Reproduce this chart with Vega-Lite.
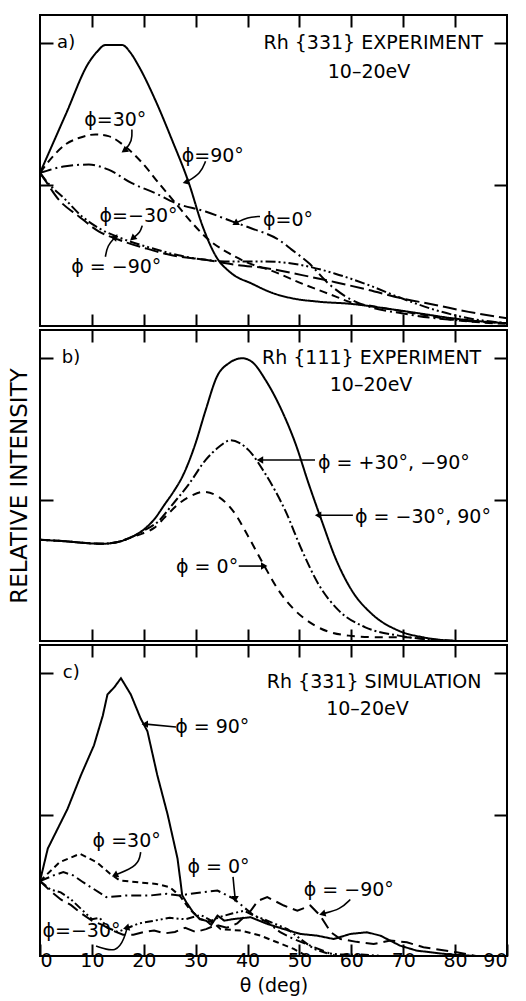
{
  "$schema": "https://vega.github.io/schema/vega-lite/v6.json",
  "background": "white",
  "padding": {"left": 7, "top": 13, "right": 0, "bottom": 0},
  "spacing": 0,
  "resolve": {"scale": {"strokeDash": "independent"}},
  "config": {
    "view": {"stroke": "black", "strokeWidth": 2},
    "font": "DejaVu Sans",
    "axis": {"domain": false, "grid": false, "tickColor": "black", "tickWidth": 2, "minExtent": 0, "labelFont": "DejaVu Sans", "labelFontSize": 19, "labelColor": "black", "titleFont": "DejaVu Sans", "titleFontSize": 23, "titleFontWeight": "normal", "titleColor": "black"},
    "text": {"font": "DejaVu Sans", "color": "black"}
  },
  "datasets": {
    "curves": [
      {"panel":"a","phi":"90","theta":0,"intensity":1.083},{"panel":"a","phi":"90","theta":5,"intensity":1.5},{"panel":"a","phi":"90","theta":9.4,"intensity":1.863},{"panel":"a","phi":"90","theta":11,"intensity":1.94},{"panel":"a","phi":"90","theta":12.6,"intensity":1.988},{"panel":"a","phi":"90","theta":15.8,"intensity":1.988},{"panel":"a","phi":"90","theta":17.5,"intensity":1.93},{"panel":"a","phi":"90","theta":19,"intensity":1.84},{"panel":"a","phi":"90","theta":22.2,"intensity":1.6},{"panel":"a","phi":"90","theta":25.4,"intensity":1.32},{"panel":"a","phi":"90","theta":28.7,"intensity":1.01},{"panel":"a","phi":"90","theta":31.2,"intensity":0.72},{"panel":"a","phi":"90","theta":33.8,"intensity":0.5},{"panel":"a","phi":"90","theta":37,"intensity":0.37},{"panel":"a","phi":"90","theta":40.8,"intensity":0.3},{"panel":"a","phi":"90","theta":44.7,"intensity":0.235},{"panel":"a","phi":"90","theta":48.6,"intensity":0.196},{"panel":"a","phi":"90","theta":53.7,"intensity":0.172},{"panel":"a","phi":"90","theta":60.1,"intensity":0.156},{"panel":"a","phi":"90","theta":66.5,"intensity":0.125},{"panel":"a","phi":"90","theta":73,"intensity":0.09},{"panel":"a","phi":"90","theta":79.4,"intensity":0.055},{"panel":"a","phi":"90","theta":85.8,"intensity":0.03},{"panel":"a","phi":"90","theta":90,"intensity":0.02},
      {"panel":"a","phi":"30","theta":0,"intensity":1.083},{"panel":"a","phi":"30","theta":2.5,"intensity":1.2},{"panel":"a","phi":"30","theta":4.9,"intensity":1.284},{"panel":"a","phi":"30","theta":7.5,"intensity":1.33},{"panel":"a","phi":"30","theta":10.7,"intensity":1.355},{"panel":"a","phi":"30","theta":13.2,"intensity":1.343},{"panel":"a","phi":"30","theta":16.4,"intensity":1.27},{"panel":"a","phi":"30","theta":19.7,"intensity":1.154},{"panel":"a","phi":"30","theta":22.9,"intensity":1.01},{"panel":"a","phi":"30","theta":26.1,"intensity":0.87},{"panel":"a","phi":"30","theta":29.3,"intensity":0.73},{"panel":"a","phi":"30","theta":32.5,"intensity":0.61},{"panel":"a","phi":"30","theta":36.4,"intensity":0.515},{"panel":"a","phi":"30","theta":40.2,"intensity":0.445},{"panel":"a","phi":"30","theta":44.7,"intensity":0.39},{"panel":"a","phi":"30","theta":50.5,"intensity":0.3},{"panel":"a","phi":"30","theta":56.9,"intensity":0.21},{"panel":"a","phi":"30","theta":60.1,"intensity":0.165},{"panel":"a","phi":"30","theta":63.3,"intensity":0.145},{"panel":"a","phi":"30","theta":68,"intensity":0.115},{"panel":"a","phi":"30","theta":73,"intensity":0.085},{"panel":"a","phi":"30","theta":79.4,"intensity":0.045},{"panel":"a","phi":"30","theta":85,"intensity":0.025},{"panel":"a","phi":"30","theta":90,"intensity":0.015},
      {"panel":"a","phi":"0","theta":0,"intensity":1.083},{"panel":"a","phi":"0","theta":4.9,"intensity":1.13},{"panel":"a","phi":"0","theta":9.4,"intensity":1.142},{"panel":"a","phi":"0","theta":13.2,"intensity":1.106},{"panel":"a","phi":"0","theta":17.7,"intensity":1.01},{"panel":"a","phi":"0","theta":22.2,"intensity":0.94},{"panel":"a","phi":"0","theta":26.1,"intensity":0.87},{"panel":"a","phi":"0","theta":31.9,"intensity":0.81},{"panel":"a","phi":"0","theta":37,"intensity":0.74},{"panel":"a","phi":"0","theta":40.8,"intensity":0.69},{"panel":"a","phi":"0","theta":46,"intensity":0.61},{"panel":"a","phi":"0","theta":48.5,"intensity":0.54},{"panel":"a","phi":"0","theta":51.8,"intensity":0.445},{"panel":"a","phi":"0","theta":55.6,"intensity":0.3},{"panel":"a","phi":"0","theta":60.1,"intensity":0.184},{"panel":"a","phi":"0","theta":64,"intensity":0.13},{"panel":"a","phi":"0","theta":69.7,"intensity":0.09},{"panel":"a","phi":"0","theta":75,"intensity":0.06},{"panel":"a","phi":"0","theta":80.7,"intensity":0.04},{"panel":"a","phi":"0","theta":90,"intensity":0.02},
      {"panel":"a","phi":"-30","theta":0,"intensity":1.083},{"panel":"a","phi":"-30","theta":1,"intensity":1.035},{"panel":"a","phi":"-30","theta":4.9,"intensity":0.894},{"panel":"a","phi":"-30","theta":8.1,"intensity":0.775},{"panel":"a","phi":"-30","theta":11.3,"intensity":0.693},{"panel":"a","phi":"-30","theta":16.4,"intensity":0.61},{"panel":"a","phi":"-30","theta":21.6,"intensity":0.55},{"panel":"a","phi":"-30","theta":26.7,"intensity":0.5},{"panel":"a","phi":"-30","theta":31.9,"intensity":0.468},{"panel":"a","phi":"-30","theta":37,"intensity":0.456},{"panel":"a","phi":"-30","theta":43.4,"intensity":0.456},{"panel":"a","phi":"-30","theta":50.5,"intensity":0.43},{"panel":"a","phi":"-30","theta":56.9,"intensity":0.37},{"panel":"a","phi":"-30","theta":63.3,"intensity":0.29},{"panel":"a","phi":"-30","theta":69.7,"intensity":0.196},{"panel":"a","phi":"-30","theta":76.2,"intensity":0.113},{"panel":"a","phi":"-30","theta":82.6,"intensity":0.055},{"panel":"a","phi":"-30","theta":90,"intensity":0.02},
      {"panel":"a","phi":"-90","theta":0,"intensity":1.083},{"panel":"a","phi":"-90","theta":1,"intensity":1.03},{"panel":"a","phi":"-90","theta":3.6,"intensity":0.894},{"panel":"a","phi":"-90","theta":7.5,"intensity":0.775},{"panel":"a","phi":"-90","theta":11.3,"intensity":0.67},{"panel":"a","phi":"-90","theta":15.2,"intensity":0.61},{"panel":"a","phi":"-90","theta":20.3,"intensity":0.55},{"panel":"a","phi":"-90","theta":25.4,"intensity":0.5},{"panel":"a","phi":"-90","theta":31.9,"intensity":0.468},{"panel":"a","phi":"-90","theta":38.3,"intensity":0.43},{"panel":"a","phi":"-90","theta":43.4,"intensity":0.41},{"panel":"a","phi":"-90","theta":50.5,"intensity":0.36},{"panel":"a","phi":"-90","theta":56.9,"intensity":0.31},{"panel":"a","phi":"-90","theta":63.3,"intensity":0.255},{"panel":"a","phi":"-90","theta":69.7,"intensity":0.196},{"panel":"a","phi":"-90","theta":76.2,"intensity":0.149},{"panel":"a","phi":"-90","theta":82.6,"intensity":0.1},{"panel":"a","phi":"-90","theta":90,"intensity":0.055},
      {"panel":"b","phi":"-30,90","theta":0,"intensity":0.716},{"panel":"b","phi":"-30,90","theta":5,"intensity":0.705},{"panel":"b","phi":"-30,90","theta":10,"intensity":0.69},{"panel":"b","phi":"-30,90","theta":12,"intensity":0.688},{"panel":"b","phi":"-30,90","theta":15,"intensity":0.7},{"panel":"b","phi":"-30,90","theta":17,"intensity":0.725},{"panel":"b","phi":"-30,90","theta":19.7,"intensity":0.78},{"panel":"b","phi":"-30,90","theta":22,"intensity":0.86},{"panel":"b","phi":"-30,90","theta":24.1,"intensity":0.97},{"panel":"b","phi":"-30,90","theta":25.8,"intensity":1.06},{"panel":"b","phi":"-30,90","theta":27.4,"intensity":1.16},{"panel":"b","phi":"-30,90","theta":29.9,"intensity":1.39},{"panel":"b","phi":"-30,90","theta":31.9,"intensity":1.63},{"panel":"b","phi":"-30,90","theta":34.1,"intensity":1.87},{"panel":"b","phi":"-30,90","theta":36.4,"intensity":1.965},{"panel":"b","phi":"-30,90","theta":39,"intensity":2.0},{"panel":"b","phi":"-30,90","theta":41,"intensity":1.97},{"panel":"b","phi":"-30,90","theta":43.4,"intensity":1.85},{"panel":"b","phi":"-30,90","theta":46.6,"intensity":1.63},{"panel":"b","phi":"-30,90","theta":49.2,"intensity":1.4},{"panel":"b","phi":"-30,90","theta":51.8,"intensity":1.11},{"panel":"b","phi":"-30,90","theta":54.3,"intensity":0.85},{"panel":"b","phi":"-30,90","theta":56.9,"intensity":0.59},{"panel":"b","phi":"-30,90","theta":60.1,"intensity":0.357},{"panel":"b","phi":"-30,90","theta":64,"intensity":0.19},{"panel":"b","phi":"-30,90","theta":69.1,"intensity":0.073},{"panel":"b","phi":"-30,90","theta":74,"intensity":0.025},{"panel":"b","phi":"-30,90","theta":80,"intensity":0.0},
      {"panel":"b","phi":"+30,-90","theta":0,"intensity":0.716},{"panel":"b","phi":"+30,-90","theta":5,"intensity":0.705},{"panel":"b","phi":"+30,-90","theta":10,"intensity":0.69},{"panel":"b","phi":"+30,-90","theta":12,"intensity":0.688},{"panel":"b","phi":"+30,-90","theta":15,"intensity":0.7},{"panel":"b","phi":"+30,-90","theta":17,"intensity":0.725},{"panel":"b","phi":"+30,-90","theta":19.7,"intensity":0.775},{"panel":"b","phi":"+30,-90","theta":22.9,"intensity":0.85},{"panel":"b","phi":"+30,-90","theta":25.4,"intensity":0.96},{"panel":"b","phi":"+30,-90","theta":28.7,"intensity":1.11},{"panel":"b","phi":"+30,-90","theta":31.9,"intensity":1.28},{"panel":"b","phi":"+30,-90","theta":34.4,"intensity":1.37},{"panel":"b","phi":"+30,-90","theta":36.7,"intensity":1.42},{"panel":"b","phi":"+30,-90","theta":38.5,"intensity":1.4},{"panel":"b","phi":"+30,-90","theta":40.2,"intensity":1.35},{"panel":"b","phi":"+30,-90","theta":43.4,"intensity":1.184},{"panel":"b","phi":"+30,-90","theta":47.3,"intensity":0.92},{"panel":"b","phi":"+30,-90","theta":50.5,"intensity":0.64},{"panel":"b","phi":"+30,-90","theta":53.7,"intensity":0.4},{"panel":"b","phi":"+30,-90","theta":57.6,"intensity":0.215},{"panel":"b","phi":"+30,-90","theta":62.7,"intensity":0.097},{"panel":"b","phi":"+30,-90","theta":69.1,"intensity":0.038},{"panel":"b","phi":"+30,-90","theta":75,"intensity":0.01},{"panel":"b","phi":"+30,-90","theta":80,"intensity":0.0},
      {"panel":"b","phi":"0","theta":0,"intensity":0.716},{"panel":"b","phi":"0","theta":5,"intensity":0.705},{"panel":"b","phi":"0","theta":10,"intensity":0.69},{"panel":"b","phi":"0","theta":12,"intensity":0.688},{"panel":"b","phi":"0","theta":15,"intensity":0.7},{"panel":"b","phi":"0","theta":17,"intensity":0.725},{"panel":"b","phi":"0","theta":19.7,"intensity":0.76},{"panel":"b","phi":"0","theta":22,"intensity":0.8},{"panel":"b","phi":"0","theta":24.1,"intensity":0.877},{"panel":"b","phi":"0","theta":26.7,"intensity":0.97},{"panel":"b","phi":"0","theta":29.3,"intensity":1.03},{"panel":"b","phi":"0","theta":31.5,"intensity":1.055},{"panel":"b","phi":"0","theta":34.4,"intensity":1.02},{"panel":"b","phi":"0","theta":37.6,"intensity":0.9},{"panel":"b","phi":"0","theta":40.2,"intensity":0.735},{"panel":"b","phi":"0","theta":43.4,"intensity":0.52},{"panel":"b","phi":"0","theta":46,"intensity":0.357},{"panel":"b","phi":"0","theta":49.2,"intensity":0.215},{"panel":"b","phi":"0","theta":53,"intensity":0.109},{"panel":"b","phi":"0","theta":59.5,"intensity":0.038},{"panel":"b","phi":"0","theta":65.9,"intensity":0.026},{"panel":"b","phi":"0","theta":70.4,"intensity":0.026},{"panel":"b","phi":"0","theta":75,"intensity":0.012},{"panel":"b","phi":"0","theta":80,"intensity":0.0},
      {"panel":"c","phi":"90","theta":0,"intensity":0.53},{"panel":"c","phi":"90","theta":1.5,"intensity":0.76},{"panel":"c","phi":"90","theta":3.4,"intensity":0.9},{"panel":"c","phi":"90","theta":5.3,"intensity":1.04},{"panel":"c","phi":"90","theta":7.9,"intensity":1.28},{"panel":"c","phi":"90","theta":10.4,"intensity":1.49},{"panel":"c","phi":"90","theta":12.1,"intensity":1.7},{"panel":"c","phi":"90","theta":13,"intensity":1.85},{"panel":"c","phi":"90","theta":14.3,"intensity":1.9},{"panel":"c","phi":"90","theta":15.6,"intensity":1.965},{"panel":"c","phi":"90","theta":17.5,"intensity":1.85},{"panel":"c","phi":"90","theta":19.4,"intensity":1.68},{"panel":"c","phi":"90","theta":20.7,"intensity":1.59},{"panel":"c","phi":"90","theta":22.6,"intensity":1.28},{"panel":"c","phi":"90","theta":24.6,"intensity":1.0},{"panel":"c","phi":"90","theta":26.5,"intensity":0.69},{"panel":"c","phi":"90","theta":27.1,"intensity":0.52},{"panel":"c","phi":"90","theta":27.4,"intensity":0.43},{"panel":"c","phi":"90","theta":28.2,"intensity":0.38},{"panel":"c","phi":"90","theta":29.5,"intensity":0.31},{"panel":"c","phi":"90","theta":30.8,"intensity":0.26},{"panel":"c","phi":"90","theta":32,"intensity":0.25},{"panel":"c","phi":"90","theta":33,"intensity":0.22},{"panel":"c","phi":"90","theta":34.2,"intensity":0.286},{"panel":"c","phi":"90","theta":35.5,"intensity":0.25},{"panel":"c","phi":"90","theta":37.4,"intensity":0.262},{"panel":"c","phi":"90","theta":40.6,"intensity":0.274},{"panel":"c","phi":"90","theta":43.8,"intensity":0.227},{"panel":"c","phi":"90","theta":47,"intensity":0.19},{"panel":"c","phi":"90","theta":50.2,"intensity":0.156},{"panel":"c","phi":"90","theta":53.4,"intensity":0.144},{"panel":"c","phi":"90","theta":56.6,"intensity":0.12},{"panel":"c","phi":"90","theta":59.8,"intensity":0.156},{"panel":"c","phi":"90","theta":63,"intensity":0.168},{"panel":"c","phi":"90","theta":65.6,"intensity":0.144},{"panel":"c","phi":"90","theta":69.4,"intensity":0.073},{"panel":"c","phi":"90","theta":72.6,"intensity":0.038},{"panel":"c","phi":"90","theta":79,"intensity":0.01},{"panel":"c","phi":"90","theta":84,"intensity":0.0},
      {"panel":"c","phi":"30","theta":0,"intensity":0.53},{"panel":"c","phi":"30","theta":3.8,"intensity":0.664},{"panel":"c","phi":"30","theta":7.7,"intensity":0.723},{"panel":"c","phi":"30","theta":10.9,"intensity":0.664},{"panel":"c","phi":"30","theta":13.5,"intensity":0.582},{"panel":"c","phi":"30","theta":15.4,"intensity":0.534},{"panel":"c","phi":"30","theta":19.2,"intensity":0.52},{"panel":"c","phi":"30","theta":22.4,"intensity":0.51},{"panel":"c","phi":"30","theta":25,"intensity":0.487},{"panel":"c","phi":"30","theta":26.9,"intensity":0.428},{"panel":"c","phi":"30","theta":28.8,"intensity":0.333},{"panel":"c","phi":"30","theta":30.8,"intensity":0.262},{"panel":"c","phi":"30","theta":33.3,"intensity":0.239},{"panel":"c","phi":"30","theta":34.8,"intensity":0.19},{"panel":"c","phi":"30","theta":38.7,"intensity":0.18},{"panel":"c","phi":"30","theta":42.5,"intensity":0.144},{"panel":"c","phi":"30","theta":45.7,"intensity":0.097},{"panel":"c","phi":"30","theta":48.9,"intensity":0.05},{"panel":"c","phi":"30","theta":51.4,"intensity":0.0},
      {"panel":"c","phi":"0","theta":0,"intensity":0.53},{"panel":"c","phi":"0","theta":2.6,"intensity":0.57},{"panel":"c","phi":"0","theta":4.5,"intensity":0.593},{"panel":"c","phi":"0","theta":6.4,"intensity":0.57},{"panel":"c","phi":"0","theta":8.3,"intensity":0.522},{"panel":"c","phi":"0","theta":10.3,"intensity":0.475},{"panel":"c","phi":"0","theta":12.8,"intensity":0.416},{"panel":"c","phi":"0","theta":16.7,"intensity":0.428},{"panel":"c","phi":"0","theta":21.2,"intensity":0.428},{"panel":"c","phi":"0","theta":24.4,"intensity":0.44},{"panel":"c","phi":"0","theta":26.9,"intensity":0.428},{"panel":"c","phi":"0","theta":29,"intensity":0.44},{"panel":"c","phi":"0","theta":31,"intensity":0.45},{"panel":"c","phi":"0","theta":34.2,"intensity":0.463},{"panel":"c","phi":"0","theta":37.4,"intensity":0.404},{"panel":"c","phi":"0","theta":39.3,"intensity":0.345},{"panel":"c","phi":"0","theta":41.2,"intensity":0.286},{"panel":"c","phi":"0","theta":43.8,"intensity":0.239},{"panel":"c","phi":"0","theta":46.3,"intensity":0.168},{"panel":"c","phi":"0","theta":48.9,"intensity":0.12},{"panel":"c","phi":"0","theta":52.1,"intensity":0.073},{"panel":"c","phi":"0","theta":55.3,"intensity":0.026},{"panel":"c","phi":"0","theta":57,"intensity":0.0},
      {"panel":"c","phi":"-30","theta":0,"intensity":0.53},{"panel":"c","phi":"-30","theta":2,"intensity":0.47},{"panel":"c","phi":"-30","theta":4,"intensity":0.45},{"panel":"c","phi":"-30","theta":6,"intensity":0.4},{"panel":"c","phi":"-30","theta":8,"intensity":0.33},{"panel":"c","phi":"-30","theta":10,"intensity":0.26},{"panel":"c","phi":"-30","theta":11.5,"intensity":0.27},{"panel":"c","phi":"-30","theta":13,"intensity":0.2},{"panel":"c","phi":"-30","theta":15,"intensity":0.17},{"panel":"c","phi":"-30","theta":17,"intensity":0.2},{"panel":"c","phi":"-30","theta":19,"intensity":0.23},{"panel":"c","phi":"-30","theta":22,"intensity":0.25},{"panel":"c","phi":"-30","theta":25,"intensity":0.27},{"panel":"c","phi":"-30","theta":28,"intensity":0.26},{"panel":"c","phi":"-30","theta":31,"intensity":0.29},{"panel":"c","phi":"-30","theta":33,"intensity":0.25},{"panel":"c","phi":"-30","theta":35,"intensity":0.28},{"panel":"c","phi":"-30","theta":37,"intensity":0.3},{"panel":"c","phi":"-30","theta":39.3,"intensity":0.32},{"panel":"c","phi":"-30","theta":41,"intensity":0.29},{"panel":"c","phi":"-30","theta":43.8,"intensity":0.25},{"panel":"c","phi":"-30","theta":47.7,"intensity":0.19},{"panel":"c","phi":"-30","theta":50.2,"intensity":0.12},{"panel":"c","phi":"-30","theta":52.8,"intensity":0.05},{"panel":"c","phi":"-30","theta":55.3,"intensity":0.02},{"panel":"c","phi":"-30","theta":58,"intensity":0.01},{"panel":"c","phi":"-30","theta":62,"intensity":0.01},{"panel":"c","phi":"-30","theta":66,"intensity":0.0},
      {"panel":"c","phi":"-90","theta":0,"intensity":0.53},{"panel":"c","phi":"-90","theta":2,"intensity":0.46},{"panel":"c","phi":"-90","theta":4,"intensity":0.4},{"panel":"c","phi":"-90","theta":6,"intensity":0.36},{"panel":"c","phi":"-90","theta":8,"intensity":0.3},{"panel":"c","phi":"-90","theta":10,"intensity":0.25},{"panel":"c","phi":"-90","theta":12,"intensity":0.22},{"panel":"c","phi":"-90","theta":14,"intensity":0.18},{"panel":"c","phi":"-90","theta":16,"intensity":0.15},{"panel":"c","phi":"-90","theta":18,"intensity":0.15},{"panel":"c","phi":"-90","theta":20,"intensity":0.17},{"panel":"c","phi":"-90","theta":22,"intensity":0.18},{"panel":"c","phi":"-90","theta":24,"intensity":0.16},{"panel":"c","phi":"-90","theta":26,"intensity":0.17},{"panel":"c","phi":"-90","theta":28,"intensity":0.2},{"panel":"c","phi":"-90","theta":30,"intensity":0.17},{"panel":"c","phi":"-90","theta":32,"intensity":0.19},{"panel":"c","phi":"-90","theta":34,"intensity":0.22},{"panel":"c","phi":"-90","theta":36,"intensity":0.2},{"panel":"c","phi":"-90","theta":38,"intensity":0.23},{"panel":"c","phi":"-90","theta":40.6,"intensity":0.32},{"panel":"c","phi":"-90","theta":42,"intensity":0.39},{"panel":"c","phi":"-90","theta":43.8,"intensity":0.416},{"panel":"c","phi":"-90","theta":47,"intensity":0.357},{"panel":"c","phi":"-90","theta":49.6,"intensity":0.32},{"panel":"c","phi":"-90","theta":52.1,"intensity":0.357},{"panel":"c","phi":"-90","theta":54,"intensity":0.286},{"panel":"c","phi":"-90","theta":56,"intensity":0.17},{"panel":"c","phi":"-90","theta":57.9,"intensity":0.12},{"panel":"c","phi":"-90","theta":61,"intensity":0.1},{"panel":"c","phi":"-90","theta":64.3,"intensity":0.085},{"panel":"c","phi":"-90","theta":67.5,"intensity":0.109},{"panel":"c","phi":"-90","theta":70.7,"intensity":0.097},{"panel":"c","phi":"-90","theta":73.9,"intensity":0.062},{"panel":"c","phi":"-90","theta":80.3,"intensity":0.026},{"panel":"c","phi":"-90","theta":84,"intensity":0.0}
    ],
    "labels": [
      {"panel":"a","kind":"text","theta":64.2,"intensity":2.0,"text":"Rh {331} EXPERIMENT"},
      {"panel":"a","kind":"text","theta":63.4,"intensity":1.8,"text":"10–20eV"},
      {"panel":"a","kind":"text","theta":14.5,"intensity":1.46,"text":"ϕ=30°"},
      {"panel":"a","kind":"text","theta":33.3,"intensity":1.2,"text":"ϕ=90°"},
      {"panel":"a","kind":"text","theta":47.8,"intensity":0.75,"text":"ϕ=0°"},
      {"panel":"a","kind":"text","theta":19.0,"intensity":0.775,"text":"ϕ=−30°"},
      {"panel":"a","kind":"text","theta":14.7,"intensity":0.42,"text":"ϕ = −90°"},
      {"panel":"a","kind":"tag","theta":3.3,"intensity":2.0,"text":"a)"},
      {"panel":"b","kind":"text","theta":63.9,"intensity":2.0,"text":"Rh {111} EXPERIMENT"},
      {"panel":"b","kind":"text","theta":63.8,"intensity":1.81,"text":"10–20eV"},
      {"panel":"b","kind":"text","theta":68.2,"intensity":1.26,"text":"ϕ = +30°, −90°"},
      {"panel":"b","kind":"text","theta":73.8,"intensity":0.88,"text":"ϕ = −30°, 90°"},
      {"panel":"b","kind":"text","theta":32.2,"intensity":0.52,"text":"ϕ = 0°"},
      {"panel":"b","kind":"tag","theta":4.2,"intensity":2.0,"text":"b)"},
      {"panel":"c","kind":"text","theta":64.4,"intensity":1.94,"text":"Rh {331} SIMULATION"},
      {"panel":"c","kind":"text","theta":63.1,"intensity":1.75,"text":"10–20eV"},
      {"panel":"c","kind":"text","theta":33.2,"intensity":1.62,"text":"ϕ = 90°"},
      {"panel":"c","kind":"text","theta":16.7,"intensity":0.81,"text":"ϕ =30°"},
      {"panel":"c","kind":"text","theta":34.4,"intensity":0.63,"text":"ϕ = 0°"},
      {"panel":"c","kind":"text","theta":59.5,"intensity":0.47,"text":"ϕ = −90°"},
      {"panel":"c","kind":"text","theta":8.0,"intensity":0.175,"text":"ϕ=−30°"},
      {"panel":"c","kind":"tag","theta":4.4,"intensity":2.0,"text":"c)"}
    ],
    "arrows": [
      {"panel":"a","id":"a1","step":0,"theta":17.7,"intensity":1.39},{"panel":"a","id":"a1","step":1,"theta":17.8,"intensity":1.31},{"panel":"a","id":"a1","step":2,"theta":16.4,"intensity":1.245},
      {"panel":"a","id":"a2","step":0,"theta":31.9,"intensity":1.165},{"panel":"a","id":"a2","step":1,"theta":31.0,"intensity":1.08},{"panel":"a","id":"a2","step":2,"theta":28.3,"intensity":1.02},
      {"panel":"a","id":"a3","step":0,"theta":42.4,"intensity":0.775},{"panel":"a","id":"a3","step":1,"theta":40.0,"intensity":0.77},{"panel":"a","id":"a3","step":2,"theta":37.8,"intensity":0.73},
      {"panel":"a","id":"a4","step":0,"theta":19.7,"intensity":0.71},{"panel":"a","id":"a4","step":1,"theta":19.3,"intensity":0.66},{"panel":"a","id":"a4","step":2,"theta":18.0,"intensity":0.625},
      {"panel":"a","id":"a5","step":0,"theta":12.6,"intensity":0.49},{"panel":"a","id":"a5","step":1,"theta":13.0,"intensity":0.57},{"panel":"a","id":"a5","step":2,"theta":14.4,"intensity":0.625},
      {"panel":"b","id":"b1","step":0,"theta":53.0,"intensity":1.28},{"panel":"b","id":"b1","step":1,"theta":42.6,"intensity":1.28},
      {"panel":"b","id":"b2","step":0,"theta":60.3,"intensity":0.89},{"panel":"b","id":"b2","step":1,"theta":53.8,"intensity":0.89},
      {"panel":"b","id":"b3","step":0,"theta":38.3,"intensity":0.53},{"panel":"b","id":"b3","step":1,"theta":43.0,"intensity":0.53},
      {"panel":"c","id":"c1","step":0,"theta":26.2,"intensity":1.62},{"panel":"c","id":"c1","step":1,"theta":20.4,"intensity":1.64},
      {"panel":"c","id":"c2","step":0,"theta":19.4,"intensity":0.735},{"panel":"c","id":"c2","step":1,"theta":19.0,"intensity":0.64},{"panel":"c","id":"c2","step":2,"theta":14.6,"intensity":0.575},
      {"panel":"c","id":"c3","step":0,"theta":37.2,"intensity":0.56},{"panel":"c","id":"c3","step":1,"theta":37.4,"intensity":0.48},{"panel":"c","id":"c3","step":2,"theta":37.6,"intensity":0.41},
      {"panel":"c","id":"c4","step":0,"theta":59.8,"intensity":0.4},{"panel":"c","id":"c4","step":1,"theta":57.9,"intensity":0.33},{"panel":"c","id":"c4","step":2,"theta":54.6,"intensity":0.3},
      {"panel":"c","id":"c5","step":0,"theta":10.8,"intensity":0.07},{"panel":"c","id":"c5","step":1,"theta":14.8,"intensity":0.02},{"panel":"c","id":"c5","step":2,"theta":16.3,"intensity":0.13},{"panel":"c","id":"c5","step":3,"theta":16.8,"intensity":0.2}
    ],
    "heads": [
      {"panel":"a","theta":16.4,"intensity":1.245,"heading":235},
      {"panel":"a","theta":28.3,"intensity":1.02,"heading":255},
      {"panel":"a","theta":37.8,"intensity":0.73,"heading":240},
      {"panel":"a","theta":18.0,"intensity":0.625,"heading":230},
      {"panel":"a","theta":14.4,"intensity":0.625,"heading":40},
      {"panel":"b","theta":42.6,"intensity":1.28,"heading":270},
      {"panel":"b","theta":53.8,"intensity":0.89,"heading":270},
      {"panel":"b","theta":43.0,"intensity":0.53,"heading":90},
      {"panel":"c","theta":20.4,"intensity":1.64,"heading":270},
      {"panel":"c","theta":14.6,"intensity":0.575,"heading":245},
      {"panel":"c","theta":37.6,"intensity":0.41,"heading":180},
      {"panel":"c","theta":54.6,"intensity":0.3,"heading":255},
      {"panel":"c","theta":16.8,"intensity":0.2,"heading":15}
    ]
  },
  "vconcat": [
    {
      "width": 467, "height": 311,
      "layer": [
        {"data": {"name": "curves"}, "transform": [{"filter": "datum.panel == 'a'"}],
         "mark": {"type": "line", "color": "black", "strokeWidth": 2, "interpolate": "monotone", "clip": true},
         "encoding": {
           "x": {"field": "theta", "type": "quantitative", "scale": {"domain": [0, 90], "nice": false, "zero": false}, "axis": {"orient": "bottom", "values": [10,20,30,40,50,60,70,80], "labels": false, "title": null, "tickSize": -12}},
           "y": {"field": "intensity", "type": "quantitative", "scale": {"domain": [0, 2.2], "nice": false}, "axis": {"orient": "left", "values": [1, 2], "labels": false, "tickSize": -13, "title": "RELATIVE INTENSITY", "titleOpacity": 0, "titlePadding": 8}},
           "strokeDash": {"field": "phi", "type": "nominal", "scale": {"domain": ["90","30","0","-30","-90"], "range": [[1,0],[8,5],[12,4,2,4],[10,3,2,3,2,3],[14,5]]}, "legend": null}
         }},
        {"data": {"name": "labels"}, "transform": [{"filter": "datum.panel == 'a' && datum.kind == 'text'"}],
         "mark": {"type": "text", "fontSize": 19, "align": "center", "baseline": "middle"},
         "encoding": {
           "x": {"field": "theta", "type": "quantitative", "axis": {"orient": "top", "values": [10,20,30,40,50,60,70,80], "labels": false, "title": null, "tickSize": -12}},
           "y": {"field": "intensity", "type": "quantitative", "axis": {"orient": "right", "values": [1, 2], "labels": false, "title": null, "tickSize": -13}},
           "text": {"field": "text"}
         }},
        {"data": {"name": "labels"}, "transform": [{"filter": "datum.panel == 'a' && datum.kind == 'tag'"}],
         "mark": {"type": "text", "fontSize": 18, "align": "left", "baseline": "middle"},
         "encoding": {"x": {"field": "theta", "type": "quantitative", "axis": null}, "y": {"field": "intensity", "type": "quantitative", "axis": null}, "text": {"field": "text"}}},
        {"data": {"name": "arrows"}, "transform": [{"filter": "datum.panel == 'a'"}],
         "mark": {"type": "line", "color": "black", "strokeWidth": 1.6, "interpolate": "basis"},
         "encoding": {"x": {"field": "theta", "type": "quantitative", "axis": null}, "y": {"field": "intensity", "type": "quantitative", "axis": null}, "detail": {"field": "id"}, "order": {"field": "step"}}},
        {"data": {"name": "heads"}, "transform": [{"filter": "datum.panel == 'a'"}],
         "mark": {"type": "point", "shape": "triangle", "filled": true, "color": "black", "size": 55, "opacity": 1},
         "encoding": {"x": {"field": "theta", "type": "quantitative", "axis": null}, "y": {"field": "intensity", "type": "quantitative", "axis": null}, "angle": {"field": "heading", "type": "quantitative", "scale": null}}}
      ]
    },
    {
      "width": 467, "height": 311,
      "layer": [
        {"data": {"name": "curves"}, "transform": [{"filter": "datum.panel == 'b'"}],
         "mark": {"type": "line", "color": "black", "strokeWidth": 2, "interpolate": "monotone", "clip": true},
         "encoding": {
           "x": {"field": "theta", "type": "quantitative", "scale": {"domain": [0, 90], "nice": false, "zero": false}, "axis": {"orient": "bottom", "values": [10,20,30,40,50,60,70,80], "labels": false, "title": null, "tickSize": -12}},
           "y": {"field": "intensity", "type": "quantitative", "scale": {"domain": [0, 2.2], "nice": false}, "axis": {"orient": "left", "values": [1, 2], "labels": false, "tickSize": -13, "title": "RELATIVE INTENSITY", "titlePadding": 8}},
           "strokeDash": {"field": "phi", "type": "nominal", "scale": {"domain": ["-30,90","+30,-90","0"], "range": [[1,0],[10,3,2,3],[8,6]]}, "legend": null}
         }},
        {"data": {"name": "labels"}, "transform": [{"filter": "datum.panel == 'b' && datum.kind == 'text'"}],
         "mark": {"type": "text", "fontSize": 19, "align": "center", "baseline": "middle"},
         "encoding": {
           "x": {"field": "theta", "type": "quantitative", "axis": {"orient": "top", "values": [10,20,30,40,50,60,70,80], "labels": false, "title": null, "tickSize": -12}},
           "y": {"field": "intensity", "type": "quantitative", "axis": {"orient": "right", "values": [1, 2], "labels": false, "title": null, "tickSize": -13}},
           "text": {"field": "text"}
         }},
        {"data": {"name": "labels"}, "transform": [{"filter": "datum.panel == 'b' && datum.kind == 'tag'"}],
         "mark": {"type": "text", "fontSize": 18, "align": "left", "baseline": "middle"},
         "encoding": {"x": {"field": "theta", "type": "quantitative", "axis": null}, "y": {"field": "intensity", "type": "quantitative", "axis": null}, "text": {"field": "text"}}},
        {"data": {"name": "arrows"}, "transform": [{"filter": "datum.panel == 'b'"}],
         "mark": {"type": "line", "color": "black", "strokeWidth": 1.6, "interpolate": "basis"},
         "encoding": {"x": {"field": "theta", "type": "quantitative", "axis": null}, "y": {"field": "intensity", "type": "quantitative", "axis": null}, "detail": {"field": "id"}, "order": {"field": "step"}}},
        {"data": {"name": "heads"}, "transform": [{"filter": "datum.panel == 'b'"}],
         "mark": {"type": "point", "shape": "triangle", "filled": true, "color": "black", "size": 55, "opacity": 1},
         "encoding": {"x": {"field": "theta", "type": "quantitative", "axis": null}, "y": {"field": "intensity", "type": "quantitative", "axis": null}, "angle": {"field": "heading", "type": "quantitative", "scale": null}}}
      ]
    },
    {
      "width": 467, "height": 311,
      "layer": [
        {"data": {"name": "curves"}, "transform": [{"filter": "datum.panel == 'c'"}],
         "mark": {"type": "line", "color": "black", "strokeWidth": 2, "interpolate": "linear", "clip": true},
         "encoding": {
           "x": {"field": "theta", "type": "quantitative", "scale": {"domain": [0, 90], "nice": false, "zero": false}, "axis": {"orient": "bottom", "values": [0,10,20,30,40,50,60,70,80,90], "labels": true, "labelPadding": 7, "title": "θ (deg)", "titlePadding": 6, "titleFontSize": 19, "tickSize": -12}},
           "y": {"field": "intensity", "type": "quantitative", "scale": {"domain": [0, 2.2], "nice": false}, "axis": {"orient": "left", "values": [1, 2], "labels": false, "tickSize": -13, "title": "RELATIVE INTENSITY", "titleOpacity": 0, "titlePadding": 8}},
           "strokeDash": {"field": "phi", "type": "nominal", "scale": {"domain": ["90","30","0","-30","-90"], "range": [[1,0],[6,4],[10,4,2,4],[8,3,2,3,2,3],[12,6]]}, "legend": null}
         }},
        {"data": {"name": "labels"}, "transform": [{"filter": "datum.panel == 'c' && datum.kind == 'text'"}],
         "mark": {"type": "text", "fontSize": 19, "align": "center", "baseline": "middle"},
         "encoding": {
           "x": {"field": "theta", "type": "quantitative", "axis": {"orient": "top", "values": [10,20,30,40,50,60,70,80], "labels": false, "title": null, "tickSize": -12}},
           "y": {"field": "intensity", "type": "quantitative", "axis": {"orient": "right", "values": [1, 2], "labels": false, "title": null, "tickSize": -13}},
           "text": {"field": "text"}
         }},
        {"data": {"name": "labels"}, "transform": [{"filter": "datum.panel == 'c' && datum.kind == 'tag'"}],
         "mark": {"type": "text", "fontSize": 18, "align": "left", "baseline": "middle"},
         "encoding": {"x": {"field": "theta", "type": "quantitative", "axis": null}, "y": {"field": "intensity", "type": "quantitative", "axis": null}, "text": {"field": "text"}}},
        {"data": {"name": "arrows"}, "transform": [{"filter": "datum.panel == 'c'"}],
         "mark": {"type": "line", "color": "black", "strokeWidth": 1.6, "interpolate": "basis"},
         "encoding": {"x": {"field": "theta", "type": "quantitative", "axis": null}, "y": {"field": "intensity", "type": "quantitative", "axis": null}, "detail": {"field": "id"}, "order": {"field": "step"}}},
        {"data": {"name": "heads"}, "transform": [{"filter": "datum.panel == 'c'"}],
         "mark": {"type": "point", "shape": "triangle", "filled": true, "color": "black", "size": 55, "opacity": 1},
         "encoding": {"x": {"field": "theta", "type": "quantitative", "axis": null}, "y": {"field": "intensity", "type": "quantitative", "axis": null}, "angle": {"field": "heading", "type": "quantitative", "scale": null}}}
      ]
    }
  ]
}
